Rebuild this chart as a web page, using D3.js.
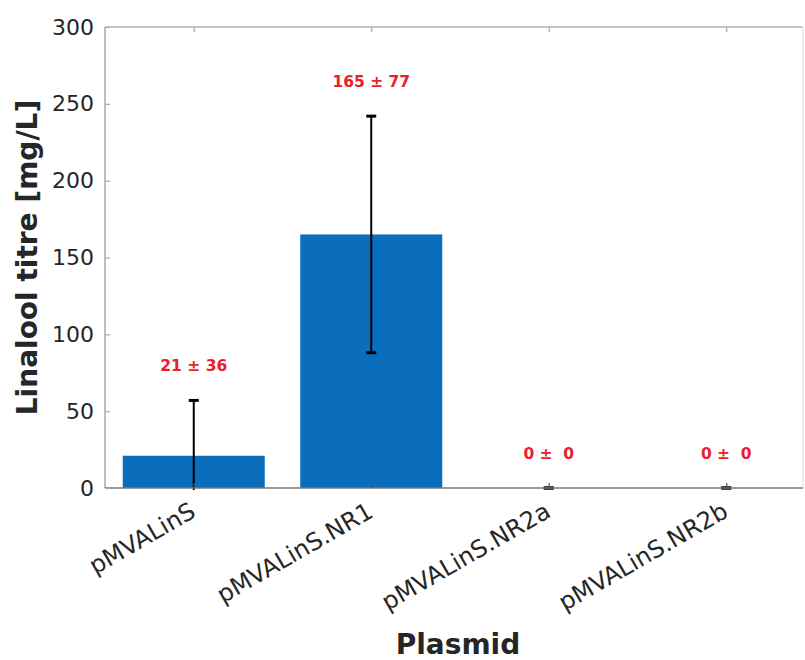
<!DOCTYPE html>
<html>
<head>
<meta charset="utf-8">
<script src="https://cdn.jsdelivr.net/npm/d3@7"></script>
<style>
  body { margin: 0; background: #fff; }
  svg { display: block; font-family: "DejaVu Sans", sans-serif; }
</style>
</head>
<body>
<script>
// data
const plasmids = ['pMVALinS', 'pMVALinS.NR1', 'pMVALinS.NR2a', 'pMVALinS.NR2b'];
const titreMean = [21, 165, 0, 0];
const titreSd = [36, 77, 0, 0];
const yTicks = [0, 50, 100, 150, 200, 250, 300];

const width = 805;
const height = 660;
const plotLeft = 105, plotTop = 27, plotBottom = 488, plotRight = 803;

const xScale = d3.scaleLinear()
    .domain([0.5, 4.5])
    .range([plotLeft, plotLeft + 710]);

const yScale = d3.scaleLinear()
    .domain([0, 300])
    .range([plotBottom, plotTop]);

const barWidth = (xScale(2) - xScale(1)) * 0.8;

const svg = d3.select('body')
    .append('svg')
    .attr('width', width)
    .attr('height', height);

// a little slack below the axis so the caps sitting on zero still show
svg.append('defs').append('clipPath')
    .attr('id', 'plotclip')
    .append('rect')
    .attr('x', plotLeft).attr('y', plotTop)
    .attr('width', plotRight - plotLeft).attr('height', plotBottom - plotTop + 2);

const plot = svg.append('g').attr('clip-path', 'url(#plotclip)');

// bars
plot.selectAll('rect.bar')
    .data(plasmids)
    .enter()
    .append('rect')
    .attr('class', 'bar')
    .attr('x', (d, i) => xScale(i + 1) - barWidth / 2)
    .attr('y', (d, i) => yScale(titreMean[i]))
    .attr('width', barWidth)
    .attr('height', (d, i) => yScale(0) - yScale(titreMean[i]))
    .attr('fill', '#0a6ebd');

// frame
const frame = svg.append('g').attr('fill', 'none');
frame.append('line').attr('x1', plotLeft).attr('x2', plotRight).attr('y1', plotTop).attr('y2', plotTop)
    .attr('stroke', '#b4b4b4').attr('stroke-width', 1.5);
frame.append('line').attr('x1', plotLeft).attr('x2', plotLeft).attr('y1', plotTop).attr('y2', plotBottom)
    .attr('stroke', '#a8a8a8').attr('stroke-width', 1.5);
frame.append('line').attr('x1', plotRight).attr('x2', plotRight).attr('y1', plotTop).attr('y2', plotBottom)
    .attr('stroke', '#e4e4e4').attr('stroke-width', 1.5);
frame.append('line').attr('x1', plotLeft).attr('x2', plotRight).attr('y1', plotBottom).attr('y2', plotBottom)
    .attr('stroke', '#777').attr('stroke-width', 1.5);

// error bars
const errs = plot.selectAll('g.err')
    .data(plasmids)
    .enter()
    .append('g')
    .attr('class', 'err')
    .attr('stroke', '#000')
    .attr('stroke-width', 2);

errs.append('line')
    .attr('x1', (d, i) => xScale(i + 1))
    .attr('x2', (d, i) => xScale(i + 1))
    .attr('y1', (d, i) => yScale(titreMean[i] - titreSd[i]))
    .attr('y2', (d, i) => yScale(titreMean[i] + titreSd[i]));

errs.append('line')
    .attr('x1', (d, i) => xScale(i + 1) - 5)
    .attr('x2', (d, i) => xScale(i + 1) + 5)
    .attr('y1', (d, i) => yScale(titreMean[i] + titreSd[i]))
    .attr('y2', (d, i) => yScale(titreMean[i] + titreSd[i]))
    .attr('stroke-width', 3);

errs.append('line')
    .attr('x1', (d, i) => xScale(i + 1) - 5)
    .attr('x2', (d, i) => xScale(i + 1) + 5)
    .attr('y1', (d, i) => yScale(titreMean[i] - titreSd[i]))
    .attr('y2', (d, i) => yScale(titreMean[i] - titreSd[i]))
    .attr('stroke-width', 3);

// y axis
const yAxis = svg.append('g')
    .attr('transform', `translate(${plotLeft}, 0)`)
    .call(d3.axisLeft(yScale).tickValues(yTicks).tickSizeInner(-5).tickSizeOuter(0).tickPadding(11));
yAxis.select('.domain').remove();
yAxis.selectAll('.tick line').attr('stroke', '#a8a8a8').attr('stroke-width', 1.2);
yAxis.selectAll('.tick text')
    .attr('fill', '#262626')
    .style('font-size', '22px')
    .style('font-family', '"DejaVu Sans", sans-serif');

// x axis
const xAxis = svg.append('g')
    .attr('transform', `translate(0, ${plotBottom})`)
    .call(d3.axisBottom(xScale).tickValues([1, 2, 3, 4]).tickFormat((d) => plasmids[d - 1])
        .tickSizeInner(-5).tickSizeOuter(0));
xAxis.select('.domain').remove();
xAxis.selectAll('.tick line').attr('stroke', '#555').attr('stroke-width', 1.2);
xAxis.selectAll('.tick text')
    .attr('fill', '#262626')
    .attr('text-anchor', 'end')
    .attr('y', 0)
    .attr('dy', 0)
    .attr('transform', 'translate(3, 28) rotate(-30)')
    .style('font-size', '24px')
    .style('font-family', '"DejaVu Sans", sans-serif');

// top ticks
svg.append('g')
    .attr('transform', `translate(0, ${plotTop})`)
    .call(d3.axisTop(xScale).tickValues([1, 2, 3, 4]).tickFormat('').tickSizeInner(-5).tickSizeOuter(0))
    .call((g) => g.select('.domain').remove())
    .selectAll('.tick line').attr('stroke', '#a8a8a8').attr('stroke-width', 1.2);

// value labels
svg.selectAll('text.val')
    .data(plasmids)
    .enter()
    .append('text')
    .attr('class', 'val')
    .attr('x', (d, i) => xScale(i + 1))
    .attr('y', (d, i) => yScale(titreMean[i] + titreSd[i] + 19))
    .attr('text-anchor', 'middle')
    .attr('fill', '#e8202a')
    .style('font-size', '15.5px')
    .style('font-weight', 'bold')
    .style('white-space', 'pre')
    .text((d, i) => `${titreMean[i]} \u00b1 ${String(titreSd[i]).padStart(2, ' ')}`);

// axis titles
svg.append('text')
    .attr('transform', `translate(37, ${(plotTop + plotBottom) / 2}) rotate(-90)`)
    .attr('text-anchor', 'middle')
    .attr('fill', '#262626')
    .style('font-size', '28px')
    .style('font-weight', 'bold')
    .text('Linalool titre [mg/L]');

svg.append('text')
    .attr('x', 458)
    .attr('y', 654)
    .attr('text-anchor', 'middle')
    .attr('fill', '#262626')
    .style('font-size', '28px')
    .style('font-weight', 'bold')
    .text('Plasmid');
</script>
</body>
</html>
